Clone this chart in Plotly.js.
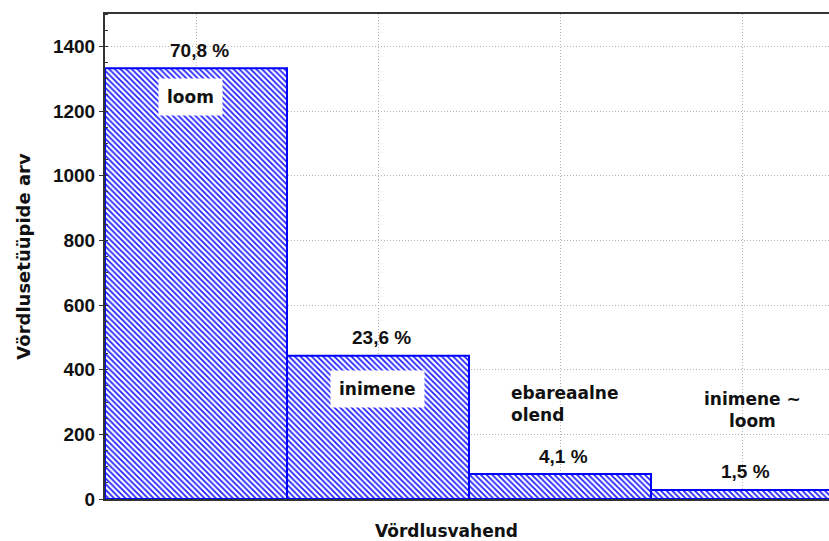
<!DOCTYPE html>
<html><head><meta charset="utf-8">
<script src="https://cdn.plot.ly/plotly-3.0.1.min.js"></script>
<style>html,body{margin:0;padding:0;background:#fff;}</style>
</head><body>
<div id="chart" style="width:829px;height:541px;"></div>
<script>
const categories = ["loom", "inimene", "ebareaalne<br>olend", "inimene ~<br>loom"];
const counts = [1332, 443, 77, 28];
const percentLabels = ["70,8 %", "23,6 %", "4,1 %", "1,5 %"];
const yTicks = [0, 200, 400, 600, 800, 1000, 1200, 1400];

const ARIAL = "Liberation Sans, Arial, sans-serif";
const WIDE = "DejaVu Sans, Verdana, sans-serif";
const TXT = "#111";

const trace = {
  type: "bar",
  x: categories,
  y: counts,
  width: 1,
  marker: {
    color: "#ffffff",
    line: {color: "#0000ff", width: 2},
    pattern: {shape: "\\", fgcolor: "#1a1aff", bgcolor: "#ffffff", size: 4, solidity: 0.42}
  },
  hoverinfo: "skip"
};

const annotations = percentLabels.map((t, i) => ({
  x: categories[i], y: counts[i], xref: "x", yref: "y",
  text: "<b>" + t + "</b>", showarrow: false,
  yanchor: "middle", yshift: 18, xshift: 3,
  font: {family: ARIAL, size: 19, color: TXT}
}));

const labelPos = [
  {dx: -6, py: 97, align: "center", xa: "center", bg: true},
  {dx: -1, py: 389, align: "center", xa: "center", bg: true},
  {dx: -50, py: 404, align: "left", xa: "left", bg: false},
  {dx: 10, py: 410, align: "center", xa: "center", bg: false}
];
categories.forEach((c, i) => {
  const p = labelPos[i];
  annotations.push({
    x: c, xref: "x", xshift: p.dx,
    y: 1 - (p.py - 14) / 485, yref: "paper",
    text: "<b>" + c + "</b>", showarrow: false,
    xanchor: p.xa, align: p.align, yanchor: "middle",
    bgcolor: p.bg ? "#ffffff" : "rgba(0,0,0,0)", borderpad: p.bg ? 8 : 0,
    font: {family: WIDE, size: 17, color: TXT}
  });
});
annotations.push({
  x: (446 - 105) / 724, xref: "paper", y: -0.066, yref: "paper",
  text: "<b>Vördlusvahend</b>", showarrow: false, yanchor: "middle",
  font: {family: WIDE, size: 17, color: TXT}
});

const layout = {
  width: 829, height: 541,
  margin: {l: 105, r: 0, t: 14, b: 42},
  paper_bgcolor: "#ffffff", plot_bgcolor: "#ffffff",
  showlegend: false,
  bargap: 0,
  xaxis: {
    type: "category",
    range: [-0.5, 3.478],
    showticklabels: false,
    ticks: "",
    showgrid: true, gridcolor: "#b4b4b4", griddash: "1px,2px", gridwidth: 1,
    showline: true, linecolor: "#333333", linewidth: 2, mirror: true,
    zeroline: false
  },
  yaxis: {
    range: [0, 1500],
    tickmode: "array", tickvals: yTicks,
    ticks: "outside", ticklen: 4, tickcolor: "#333333", tickwidth: 1,
    tickfont: {family: ARIAL, size: 19, color: TXT, weight: "bold"},
    showgrid: true, gridcolor: "#b4b4b4", griddash: "1px,2px", gridwidth: 1,
    showline: true, linecolor: "#333333", linewidth: 2,
    zeroline: false,
    minor: {dtick: 50, ticks: "inside", ticklen: 3, tickcolor: "#333333", showgrid: false},
    title: {text: "<b>Vördlusetüüpide arv</b>", font: {family: WIDE, size: 18, color: TXT}, standoff: 18}
  },
  annotations: annotations
};

Plotly.newPlot("chart", [trace], layout, {displayModeBar: false, staticPlot: true});
</script>
</body></html>
